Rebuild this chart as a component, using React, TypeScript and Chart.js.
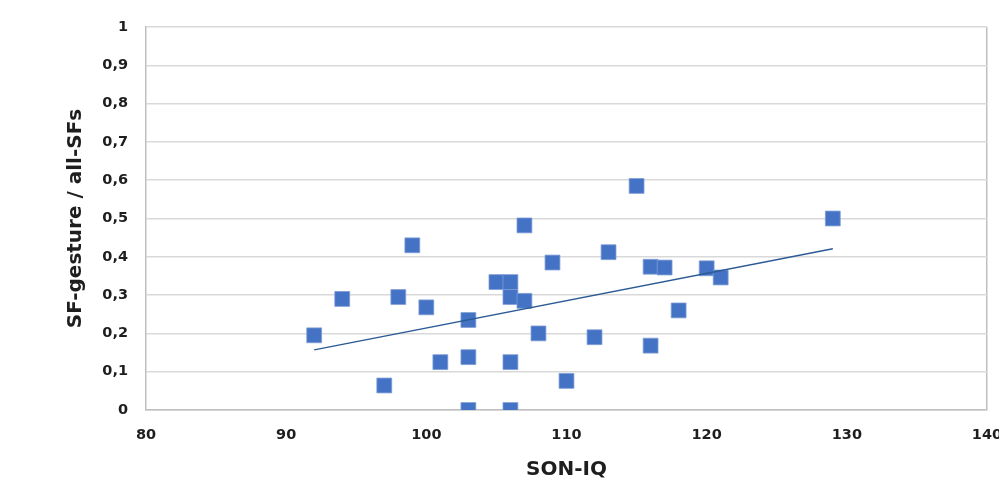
import React, { useEffect, useRef } from "react";
import { Chart, registerables } from "chart.js";

Chart.register(...registerables);

const iqValues = [92, 94, 97, 98, 99, 100, 101, 103, 103, 103, 105, 106, 106, 106, 106, 107, 107, 108, 109, 110, 112, 113, 115, 116, 116, 117, 118, 120, 121, 129];
const ratioValues = [0.195, 0.29, 0.064, 0.295, 0.43, 0.268, 0.125, 0.235, 0.138, 0, 0.334, 0.334, 0.295, 0.125, 0, 0.482, 0.285, 0.2, 0.385, 0.076, 0.19, 0.412, 0.585, 0.374, 0.168, 0.372, 0.26, 0.37, 0.346, 0.5];
const trendX = [92, 129];
const trendY = [0.157, 0.421];
const xTickLabels = ["80", "90", "100", "110", "120", "130", "140"];
const yTickLabels = ["0", "0,1", "0,2", "0,3", "0,4", "0,5", "0,6", "0,7", "0,8", "0,9", "1"];
const xTitle = "SON-IQ";
const yTitle = "SF-gesture / all-SFs";

export default function App() {
  const ref = useRef<HTMLCanvasElement | null>(null);
  useEffect(() => {
    if (!ref.current) return;
    const fontFamily = "'DejaVu Sans', sans-serif";
    const textColor = "#1e1e1e";
    const chart = new Chart(ref.current, {
      type: "scatter",
      data: {
        datasets: [
          {
            type: "line",
            data: trendX.map((x, i) => ({ x, y: trendY[i] })),
            borderColor: "#2B5A94",
            borderWidth: 1.3,
            pointRadius: 0,
            fill: false,
            order: 0,
          } as any,
          {
            data: iqValues.map((x, i) => ({ x, y: ratioValues[i] })),
            backgroundColor: "#4472C4",
            borderColor: "#7E9DD6",
            borderWidth: 0.8,
            pointStyle: "rect",
            pointRadius: 10.5,
            order: 1,
          },
        ],
      },
      options: {
        responsive: false,
        devicePixelRatio: 1,
        animation: false,
        layout: { padding: { left: 54, right: 33, top: 27, bottom: 0 } },
        plugins: { legend: { display: false }, tooltip: { enabled: false } },
        scales: {
          x: {
            type: "linear",
            min: 80,
            max: 140,
            afterBuildTicks: (s: any) => {
              s.ticks = xTickLabels.map((_, i) => ({ value: 80 + i * 10 }));
            },
            afterFit: (s: any) => {
              s.height = 76;
            },
            ticks: {
              callback: (_v: any, i: number) => xTickLabels[i],
              font: { family: fontFamily, size: 14.5, weight: "bold" },
              color: textColor,
              padding: 17,
              maxRotation: 0,
            },
            grid: {
              drawTicks: false,
              color: (c: any) => (c.tick && c.tick.value === 140 ? "#BFBFBF" : "rgba(0,0,0,0)"),
              lineWidth: 1.5,
            },
            border: { display: true, color: "#BFBFBF", width: 1.5 },
            title: {
              display: true,
              text: xTitle,
              font: { family: fontFamily, size: 20, weight: "bold" },
              color: textColor,
              padding: { top: 0, bottom: 4 },
            },
          },
          y: {
            type: "linear",
            min: 0,
            max: 1,
            afterBuildTicks: (s: any) => {
              s.ticks = yTickLabels.map((_, i) => ({ value: i / 10 }));
            },
            afterFit: (s: any) => {
              s.width = 92;
            },
            ticks: {
              callback: (_v: any, i: number) => yTickLabels[i],
              font: { family: fontFamily, size: 14.5, weight: "bold" },
              color: textColor,
              padding: 18,
            },
            grid: { drawTicks: false, color: "#D9D9D9", lineWidth: 1.5 },
            border: { display: true, color: "#BFBFBF", width: 1.5 },
            title: {
              display: true,
              text: yTitle,
              font: { family: fontFamily, size: 20, weight: "bold" },
              color: textColor,
              padding: { top: 10, bottom: 0 },
            },
          },
        },
      },
    });
    return () => chart.destroy();
  }, []);
  return (
    <div style={{ position: "absolute", left: 0, top: 0, width: 999, height: 486, overflow: "hidden", background: "#fff" }}>
      <canvas ref={ref} width={1020} height={486} style={{ display: "block" }} />
    </div>
  );
}
